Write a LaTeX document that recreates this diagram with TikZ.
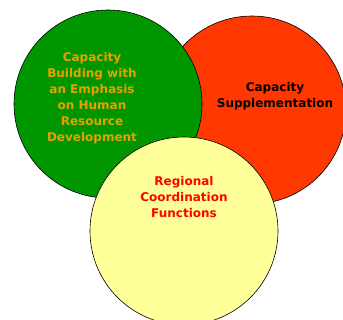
\documentclass[tikz,border=0pt]{standalone}
\usepackage{fontspec}
\setmainfont{DejaVu Sans}
\definecolor{leafgreen}{RGB}{0,150,0}
\definecolor{flamered}{RGB}{255,55,0}
\definecolor{paleyellow}{RGB}{255,255,153}
\definecolor{amber}{RGB}{232,160,0}
\tikzset{
  ring/.style={circle, draw=black, line width=0.6pt, minimum size=188pt, inner sep=0pt},
  caption/.style={align=center, font=\bfseries\fontsize{12}{16}\selectfont}
}
\begin{document}
\begin{tikzpicture}[x=1pt,y=-1pt]
    \useasboundingbox (0,0) rectangle (343,320);
    \clip (0,0) rectangle (343,320);
    \node[ring, fill=flamered] (supply) at (252,110) {};
    \node[ring, fill=leafgreen] (build) at (108,104) {};
    \node[ring, fill=paleyellow] (region) at (184,231) {};
    \node[caption, text=amber] (buildtext) at (92,98) {Capacity\\Building with\\an Emphasis\\on Human\\Resource\\Development};
    \node[caption, text=black] (supplytext) at (275,96) {Capacity\\Supplementation};
    \node[caption, text=red] (regiontext) at (184,197) {Regional\\Coordination\\Functions};
\end{tikzpicture}
\end{document}
